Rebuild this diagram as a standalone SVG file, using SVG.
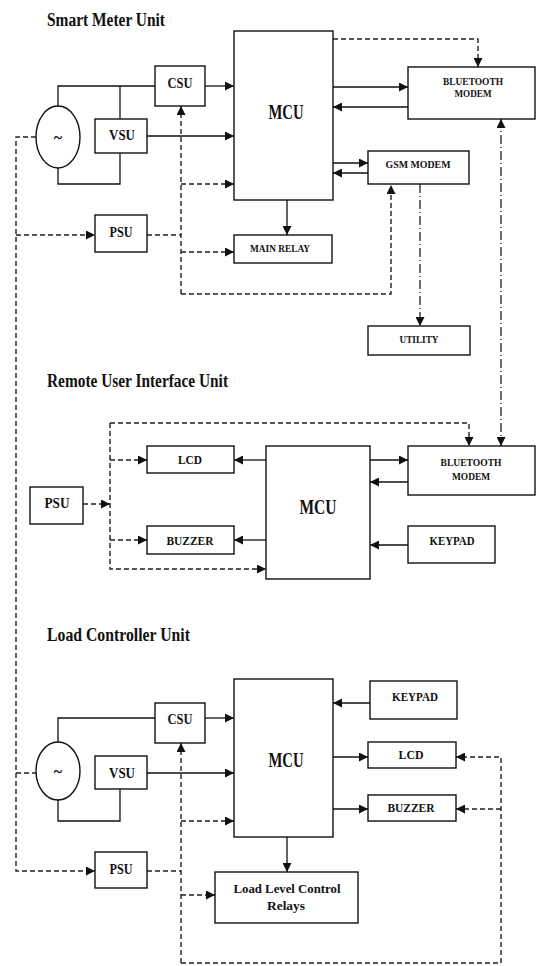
<svg xmlns="http://www.w3.org/2000/svg" width="536" height="966" viewBox="0 0 536 966">
<style>
  .box{fill:#fff;stroke:#111;stroke-width:1.4}
  .w{fill:none;stroke:#111;stroke-width:1.3}
  .d{fill:none;stroke:#222;stroke-width:1.4;stroke-dasharray:5 3}
  .dd{fill:none;stroke:#222;stroke-width:1.3;stroke-dasharray:9 3 1 3}
  text{font-family:"Liberation Serif","Times New Roman",serif;font-weight:bold;fill:#111;text-anchor:middle}
  .t{text-anchor:start;font-size:18px}
  .m{font-size:20px}
  .s{font-size:14px}
  .x{font-size:10px}
  .y{font-size:12px}
</style>
<defs>
  <marker id="a" markerUnits="userSpaceOnUse" markerWidth="10" markerHeight="9" refX="9" refY="4.5" orient="auto-start-reverse">
    <path d="M0,0 L9,4.5 L0,9 z" fill="#111"/>
  </marker>
</defs>
<rect width="536" height="966" fill="#fff"/>

<g id="titles">
  <text class="t" x="47" y="26" textLength="118" lengthAdjust="spacingAndGlyphs">Smart Meter Unit</text>
  <text class="t" x="47" y="387" textLength="181" lengthAdjust="spacingAndGlyphs">Remote User Interface Unit</text>
  <text class="t" x="47" y="641" textLength="143" lengthAdjust="spacingAndGlyphs">Load Controller Unit</text>
</g>

<g id="connectors">
  <!-- Smart meter -->
  <path class="w" d="M58,106 V86 H155"/>
  <path class="w" d="M120,86 V119"/>
  <path class="w" d="M120,153 V184 H58 V168"/>
  <path class="w" d="M205,86 H234" marker-end="url(#a)"/>
  <path class="w" d="M147,136 H234" marker-end="url(#a)"/>
  <path class="w" d="M333,87 H408" marker-end="url(#a)"/>
  <path class="w" d="M408,107 H333" marker-end="url(#a)"/>
  <path class="w" d="M333,163 H368" marker-end="url(#a)"/>
  <path class="w" d="M368,173 H333" marker-end="url(#a)"/>
  <path class="w" d="M287,200 V235" marker-end="url(#a)"/>
  <path class="d" d="M333,39 H478 V67" marker-end="url(#a)"/>
  <path class="d" d="M181,294 V106" marker-end="url(#a)"/>
  <path class="d" d="M181,184 H234" marker-end="url(#a)"/>
  <path class="d" d="M147,235 H181"/>
  <path class="d" d="M181,252 H234" marker-end="url(#a)"/>
  <path class="d" d="M181,294 H391 V185" marker-end="url(#a)"/>
  <path class="d" d="M36,137 H16 V871 H95" marker-end="url(#a)"/>
  <path class="d" d="M16,235 H95" marker-end="url(#a)"/>
  <path class="dd" d="M420,184 V326" marker-end="url(#a)"/>
  <path class="dd" d="M501,119 V446" marker-start="url(#a)" marker-end="url(#a)"/>
  <!-- Remote UI -->
  <path class="d" d="M110,423 H469 V446" marker-end="url(#a)"/>
  <path class="d" d="M110,423 V569 H266" marker-end="url(#a)"/>
  <path class="d" d="M83,504 H110" marker-end="url(#a)"/>
  <path class="d" d="M110,460 H147" marker-end="url(#a)"/>
  <path class="d" d="M110,540 H147" marker-end="url(#a)"/>
  <path class="w" d="M266,460 H234" marker-end="url(#a)"/>
  <path class="w" d="M266,540 H234" marker-end="url(#a)"/>
  <path class="w" d="M370,460 H408" marker-end="url(#a)"/>
  <path class="w" d="M408,482 H370" marker-end="url(#a)"/>
  <path class="w" d="M408,545 H370" marker-end="url(#a)"/>
  <!-- Load controller -->
  <path class="w" d="M58,742 V718 H155"/>
  <path class="w" d="M205,718 H234" marker-end="url(#a)"/>
  <path class="w" d="M147,773 H234" marker-end="url(#a)"/>
  <path class="w" d="M58,800 V821 H120 V789"/>
  <path class="w" d="M370,703 H333" marker-end="url(#a)"/>
  <path class="w" d="M333,757 H368" marker-end="url(#a)"/>
  <path class="w" d="M333,809 H368" marker-end="url(#a)"/>
  <path class="w" d="M287,837 V872" marker-end="url(#a)"/>
  <path class="d" d="M181,963 V743" marker-end="url(#a)"/>
  <path class="d" d="M181,821 H234" marker-end="url(#a)"/>
  <path class="d" d="M147,871 H181"/>
  <path class="d" d="M181,895 H215" marker-end="url(#a)"/>
  <path class="d" d="M181,963 H501 V757 H456" marker-end="url(#a)"/>
  <path class="d" d="M501,809 H456" marker-end="url(#a)"/>
  <path class="d" d="M16,773 H36"/>
</g>

<!-- Smart Meter Unit -->
<g id="sm-ac"><ellipse class="box" cx="58" cy="137" rx="22" ry="31"/><text x="58" y="143" style="font-size:16px">~</text></g>
<g id="sm-csu"><rect class="box" x="155" y="66" width="50" height="40"/><text class="s" x="180" y="88" textLength="25" lengthAdjust="spacingAndGlyphs">CSU</text></g>
<g id="sm-vsu"><rect class="box" x="95" y="119" width="52" height="34"/><text class="s" x="122" y="140" textLength="26" lengthAdjust="spacingAndGlyphs">VSU</text></g>
<g id="sm-psu"><rect class="box" x="95" y="215" width="52" height="37"/><text class="s" x="121" y="237" textLength="23" lengthAdjust="spacingAndGlyphs">PSU</text></g>
<g id="sm-mcu"><rect class="box" x="234" y="31" width="99" height="169"/><text class="m" x="286" y="119" textLength="35" lengthAdjust="spacingAndGlyphs">MCU</text></g>
<g id="sm-bt"><rect class="box" x="408" y="67" width="127" height="52"/><text class="x" x="473" y="85" textLength="60" lengthAdjust="spacingAndGlyphs">BLUETOOTH</text><text class="x" x="473" y="97" textLength="37" lengthAdjust="spacingAndGlyphs">MODEM</text></g>
<g id="sm-gsm"><rect class="box" x="368" y="151" width="101" height="33"/><text class="x" x="418" y="168" textLength="65" lengthAdjust="spacingAndGlyphs">GSM MODEM</text></g>
<g id="sm-relay"><rect class="box" x="234" y="235" width="98" height="28"/><text class="x" x="280" y="252" textLength="60" lengthAdjust="spacingAndGlyphs">MAIN RELAY</text></g>
<g id="sm-utility"><rect class="box" x="368" y="326" width="102" height="29"/><text class="x" x="419" y="343" textLength="39" lengthAdjust="spacingAndGlyphs">UTILITY</text></g>

<!-- Remote User Interface Unit -->
<g id="ru-psu"><rect class="box" x="30" y="487" width="53" height="37"/><text class="s" x="57" y="508" textLength="25" lengthAdjust="spacingAndGlyphs">PSU</text></g>
<g id="ru-lcd"><rect class="box" x="147" y="446" width="87" height="27"/><text class="y" x="190" y="464" textLength="24" lengthAdjust="spacingAndGlyphs">LCD</text></g>
<g id="ru-buzzer"><rect class="box" x="147" y="526" width="87" height="28"/><text class="y" x="190" y="545" textLength="47" lengthAdjust="spacingAndGlyphs">BUZZER</text></g>
<g id="ru-mcu"><rect class="box" x="266" y="446" width="104" height="133"/><text class="m" x="318" y="514" textLength="37" lengthAdjust="spacingAndGlyphs">MCU</text></g>
<g id="ru-bt"><rect class="box" x="408" y="446" width="127" height="49"/><text class="x" x="471" y="466" textLength="61" lengthAdjust="spacingAndGlyphs">BLUETOOTH</text><text class="x" x="471" y="480" textLength="38" lengthAdjust="spacingAndGlyphs">MODEM</text></g>
<g id="ru-keypad"><rect class="box" x="408" y="526" width="87" height="37"/><text class="y" x="452" y="545" textLength="45" lengthAdjust="spacingAndGlyphs">KEYPAD</text></g>

<!-- Load Controller Unit -->
<g id="lc-ac"><ellipse class="box" cx="58" cy="771" rx="22" ry="29"/><text x="58" y="777" style="font-size:16px">~</text></g>
<g id="lc-csu"><rect class="box" x="155" y="703" width="50" height="40"/><text class="s" x="180" y="724" textLength="25" lengthAdjust="spacingAndGlyphs">CSU</text></g>
<g id="lc-vsu"><rect class="box" x="95" y="756" width="52" height="33"/><text class="s" x="122" y="778" textLength="26" lengthAdjust="spacingAndGlyphs">VSU</text></g>
<g id="lc-psu"><rect class="box" x="95" y="852" width="52" height="36"/><text class="s" x="121" y="874" textLength="23" lengthAdjust="spacingAndGlyphs">PSU</text></g>
<g id="lc-mcu"><rect class="box" x="234" y="679" width="99" height="158"/><text class="m" x="286" y="767" textLength="35" lengthAdjust="spacingAndGlyphs">MCU</text></g>
<g id="lc-keypad"><rect class="box" x="370" y="681" width="87" height="38"/><text class="y" x="415" y="701" textLength="46" lengthAdjust="spacingAndGlyphs">KEYPAD</text></g>
<g id="lc-lcd"><rect class="box" x="368" y="742" width="88" height="26"/><text class="y" x="411" y="759" textLength="25" lengthAdjust="spacingAndGlyphs">LCD</text></g>
<g id="lc-buzzer"><rect class="box" x="368" y="795" width="88" height="26"/><text class="y" x="411" y="812" textLength="47" lengthAdjust="spacingAndGlyphs">BUZZER</text></g>
<g id="lc-relays"><rect class="box" x="215" y="872" width="143" height="51"/><text x="287" y="893" style="font-size:13px" textLength="107" lengthAdjust="spacingAndGlyphs">Load Level Control</text><text x="286" y="910" style="font-size:13px" textLength="38" lengthAdjust="spacingAndGlyphs">Relays</text></g>
</svg>
